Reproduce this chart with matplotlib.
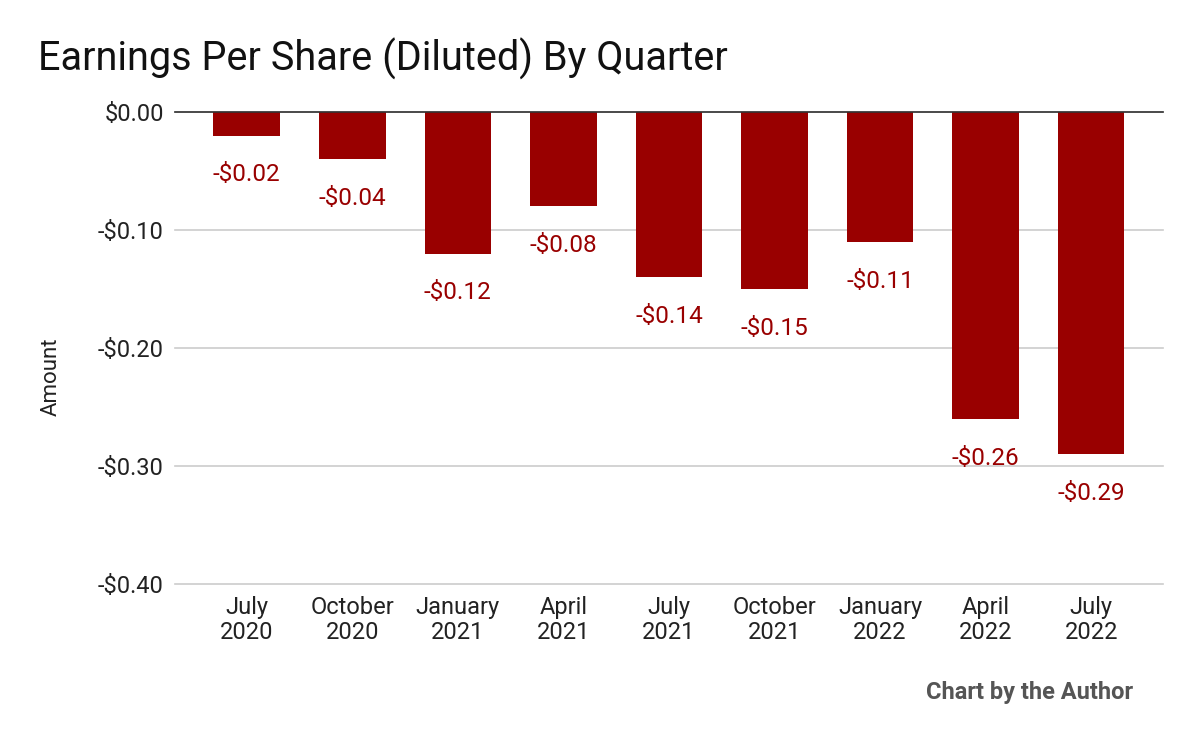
import numpy as np
import matplotlib.pyplot as plt
from matplotlib.ticker import FuncFormatter

plt.rcParams['font.family'] = ['Roboto', 'DejaVu Sans']

# DATA
quarters = ['July\n2020', 'October\n2020', 'January\n2021', 'April\n2021', 'July\n2021',
            'October\n2021', 'January\n2022', 'April\n2022', 'July\n2022']
eps = [-0.02, -0.04, -0.12, -0.08, -0.14, -0.15, -0.11, -0.26, -0.29]

bar_col = '#990000'

fig = plt.figure(figsize=(12, 7.42), dpi=100)
ax = fig.add_axes([0.1458, 0.2129, 0.8233, 0.6362])

x = np.arange(len(quarters))
ax.bar(x, eps, width=0.63, color=bar_col, zorder=3)

for xi, v in zip(x, eps):
    ax.annotate('-${:.2f}'.format(abs(v)), (xi, v), xytext=(0, -20),
                textcoords='offset points', ha='center', va='top',
                color=bar_col, fontsize=17.5)

ax.set_ylim(-0.40, 0)
ax.set_xlim(-0.68, len(quarters) - 0.32)
ax.set_yticks([0, -0.1, -0.2, -0.3, -0.4])
ax.yaxis.set_major_formatter(FuncFormatter(
    lambda v, p: '$0.00' if abs(v) < 1e-9 else ('-${:.2f}'.format(abs(v)))))
ax.set_xticks(x)
ax.set_xticklabels(quarters, fontsize=17, color='#222222', linespacing=1.1)
ax.tick_params(axis='y', labelsize=17, colors='#222222', length=0, pad=8)
ax.tick_params(axis='x', length=0, pad=8.5)

ax.grid(axis='y', color='#cccccc', lw=1.2, zorder=0)
for gl in ax.get_ygridlines():
    gl.set_clip_on(False)
ax.axhline(0, color='#333333', lw=1.2, zorder=4, clip_on=False)
for s in ax.spines.values():
    s.set_visible(False)

ax.set_ylabel('Amount', fontsize=16, color='#222222')
ax.yaxis.set_label_coords(-0.1143, 0.4386)

fig.text(0.032, 0.92, 'Earnings Per Share (Diluted) By Quarter', fontsize=28.5,
         color='#111111', va='center', ha='left')
fig.text(0.944, 0.067, 'Chart by the Author', fontsize=17, fontweight='bold',
         color='#555555', ha='right', va='center')

fig.savefig('out.png', dpi=100)
